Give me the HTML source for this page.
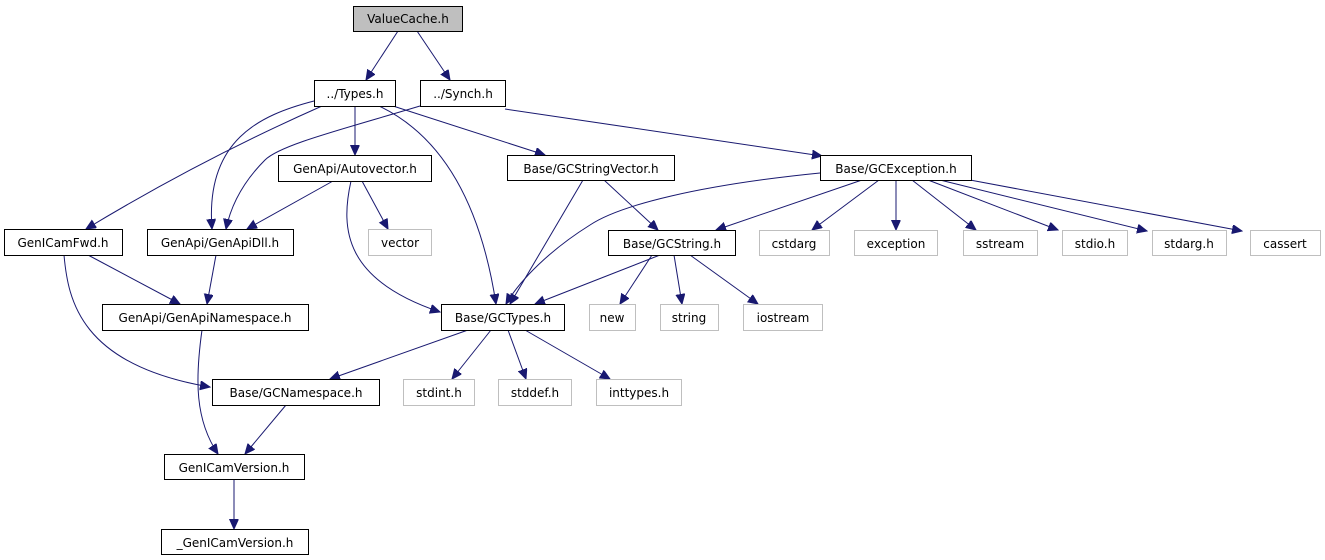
<!DOCTYPE html>
<html><head><meta charset="utf-8"><style>
html,body{margin:0;padding:0;background:#fff;}
svg{display:block;}
text{font-family:"DejaVu Sans","Liberation Sans",sans-serif;font-size:12px;fill:#000;}
.n rect{fill:#fff;stroke:#000;stroke-width:1;}
.g rect{fill:#fff;stroke:#bfbfbf;stroke-width:1;}
.e{fill:none;stroke:#191970;stroke-width:1;marker-end:url(#a);}
</style></head><body>
<svg width="1325" height="560" viewBox="0 0 1325 560" xmlns="http://www.w3.org/2000/svg">
<defs><marker id="a" markerUnits="userSpaceOnUse" markerWidth="11" markerHeight="10" refX="10" refY="4.5" orient="auto"><path d="M0,0 L10,4.5 L0,9 Z" fill="#191970" stroke="#191970"/></marker></defs>

<path class="e" d="M398,31 L366,80"/>
<path class="e" d="M417,31 L450,80"/>
<path class="e" d="M322,106 Q200,160 86,229"/>
<path class="e" d="M314,101 C260,115 205,140 212,229"/>
<path class="e" d="M420,106 C340,130 280,145 265,160 C240,185 230,210 226,229"/>
<path class="e" d="M355,106 L355,155"/>
<path class="e" d="M393,106 L545,155"/>
<path class="e" d="M379,106 C440,135 480,200 496,304"/>
<path class="e" d="M505,109 L822,156"/>
<path class="e" d="M333,181 L247,229"/>
<path class="e" d="M362,181 L388,229"/>
<path class="e" d="M351,181 C340,230 345,280 440,312"/>
<path class="e" d="M583,180 L510,304"/>
<path class="e" d="M604,180 L658,230"/>
<path class="e" d="M820,173 C700,185 620,205 590,225 C550,250 520,280 506,304"/>
<path class="e" d="M862,180 L716,230"/>
<path class="e" d="M879,180 L812,230"/>
<path class="e" d="M896,180 L896,230"/>
<path class="e" d="M912,180 L976,230"/>
<path class="e" d="M928,180 L1058,230"/>
<path class="e" d="M940,180 L1147,231"/>
<path class="e" d="M970,180 L1242,231"/>
<path class="e" d="M88,255 L180,304"/>
<path class="e" d="M64,255 C68,300 80,365 210,387"/>
<path class="e" d="M216,255 L207,304"/>
<path class="e" d="M202,330 C195,380 195,420 218,454"/>
<path class="e" d="M660,255 L535,304"/>
<path class="e" d="M652,255 L620,304"/>
<path class="e" d="M674,255 L682,304"/>
<path class="e" d="M690,255 L758,304"/>
<path class="e" d="M468,330 L330,379"/>
<path class="e" d="M491,330 L452,379"/>
<path class="e" d="M508,330 L526,379"/>
<path class="e" d="M525,330 L610,379"/>
<path class="e" d="M286,405 L245,454"/>
<path class="e" d="M234,479 L234,529"/>

<g class="n"><rect x="353.5" y="6.5" width="109" height="25" style="fill:#bfbfbf"/><text x="408" y="23" text-anchor="middle">ValueCache.h</text></g>
<g class="n"><rect x="314.5" y="80.5" width="81" height="26"/><text x="355" y="98" text-anchor="middle">../Types.h</text></g>
<g class="n"><rect x="420.5" y="80.5" width="85" height="26"/><text x="463" y="98" text-anchor="middle">../Synch.h</text></g>
<g class="n"><rect x="278.5" y="155.5" width="153" height="26"/><text x="355" y="173" text-anchor="middle">GenApi/Autovector.h</text></g>
<g class="n"><rect x="507.5" y="155.5" width="167" height="25"/><text x="591" y="173" text-anchor="middle">Base/GCStringVector.h</text></g>
<g class="n"><rect x="820.5" y="155.5" width="151" height="25"/><text x="896" y="173" text-anchor="middle">Base/GCException.h</text></g>
<g class="n"><rect x="4.5" y="229.5" width="118" height="26"/><text x="63" y="247" text-anchor="middle">GenICamFwd.h</text></g>
<g class="n"><rect x="147.5" y="229.5" width="146" height="26"/><text x="220" y="247" text-anchor="middle">GenApi/GenApiDll.h</text></g>
<g class="g"><rect x="368.5" y="229.5" width="63" height="26"/><text x="400" y="247" text-anchor="middle">vector</text></g>
<g class="n"><rect x="608.5" y="230.5" width="127" height="25"/><text x="672" y="248" text-anchor="middle">Base/GCString.h</text></g>
<g class="g"><rect x="759.5" y="230.5" width="70" height="25"/><text x="794" y="248" text-anchor="middle">cstdarg</text></g>
<g class="g"><rect x="854.5" y="230.5" width="83" height="25"/><text x="896" y="248" text-anchor="middle">exception</text></g>
<g class="g"><rect x="963.5" y="230.5" width="74" height="25"/><text x="1000" y="248" text-anchor="middle">sstream</text></g>
<g class="g"><rect x="1062.5" y="230.5" width="65" height="25"/><text x="1095" y="248" text-anchor="middle">stdio.h</text></g>
<g class="g"><rect x="1152.5" y="230.5" width="74" height="25"/><text x="1189" y="248" text-anchor="middle">stdarg.h</text></g>
<g class="g"><rect x="1250.5" y="230.5" width="70" height="25"/><text x="1285" y="248" text-anchor="middle">cassert</text></g>
<g class="n"><rect x="102.5" y="304.5" width="206" height="26"/><text x="205" y="322" text-anchor="middle">GenApi/GenApiNamespace.h</text></g>
<g class="n"><rect x="441.5" y="304.5" width="123" height="26"/><text x="503" y="322" text-anchor="middle">Base/GCTypes.h</text></g>
<g class="g"><rect x="589.5" y="304.5" width="46" height="26"/><text x="612" y="322" text-anchor="middle">new</text></g>
<g class="g"><rect x="660.5" y="304.5" width="58" height="26"/><text x="689" y="322" text-anchor="middle">string</text></g>
<g class="g"><rect x="743.5" y="304.5" width="79" height="26"/><text x="783" y="322" text-anchor="middle">iostream</text></g>
<g class="n"><rect x="212.5" y="379.5" width="167" height="26"/><text x="296" y="397" text-anchor="middle">Base/GCNamespace.h</text></g>
<g class="g"><rect x="403.5" y="379.5" width="71" height="26"/><text x="439" y="397" text-anchor="middle">stdint.h</text></g>
<g class="g"><rect x="498.5" y="379.5" width="73" height="26"/><text x="535" y="397" text-anchor="middle">stddef.h</text></g>
<g class="g"><rect x="596.5" y="379.5" width="85" height="26"/><text x="639" y="397" text-anchor="middle">inttypes.h</text></g>
<g class="n"><rect x="164.5" y="454.5" width="140" height="25"/><text x="234" y="472" text-anchor="middle">GenICamVersion.h</text></g>
<g class="n"><rect x="161.5" y="529.5" width="147" height="25"/><text x="235" y="547" text-anchor="middle">_GenICamVersion.h</text></g>
</svg>
</body></html>
